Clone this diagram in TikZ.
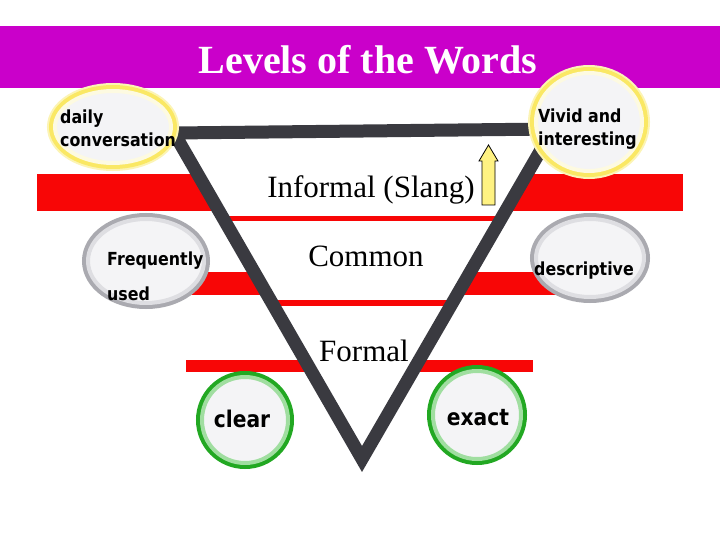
\documentclass[tikz,border=0pt]{standalone}
\usepackage{fontspec}
\setmainfont{Liberation Serif}
\newfontfamily\comicfont[FakeStretch=0.88]{DejaVu Sans}
\usetikzlibrary{shapes.geometric}
\definecolor{TitlePurple}{RGB}{202,0,202}
\definecolor{LevelRed}{RGB}{248,6,6}
\definecolor{InkGray}{RGB}{58,58,64}
\definecolor{BubbleFill}{RGB}{244,244,246}
\definecolor{GlowYellow}{RGB}{250,232,100}
\definecolor{GlowPale}{RGB}{252,244,180}
\definecolor{GlowLight}{RGB}{253,250,225}
\definecolor{RingGray}{RGB}{170,170,176}
\definecolor{RingPale}{RGB}{222,222,226}
\definecolor{RingGreen}{RGB}{34,168,34}
\definecolor{RingMint}{RGB}{160,222,160}
\definecolor{ArrowYellow}{RGB}{255,242,130}
\tikzset{
  band/.style={fill=LevelRed},
  rung/.style={draw=LevelRed,line width=5pt},
  edge/.style={draw=InkGray,line width=13pt,line join=miter},
  level/.style={font=\fontsize{31}{31}\selectfont,inner sep=0pt,anchor=base},
  bubble/.style={ellipse,fill=BubbleFill,inner sep=0pt},
  sunny/.style={bubble,draw=GlowLight,line width=4pt,
    preaction={draw=GlowPale,line width=16pt},preaction={draw=GlowYellow,line width=12pt}},
  silver/.style={bubble,draw=RingPale,line width=4pt,preaction={draw=RingGray,line width=12pt}},
  leafy/.style={bubble,draw=RingMint,line width=4pt,preaction={draw=RingGreen,line width=12pt}},
  note/.style={font=\comicfont\bfseries\fontsize{18}{23}\selectfont,align=left,inner sep=0pt},
  bignote/.style={font=\comicfont\bfseries\fontsize{23}{23}\selectfont,inner sep=0pt},
  arrowbox/.style={draw=black,fill=ArrowYellow,line width=0.8pt},
}
\begin{document}
\begin{tikzpicture}[x=1pt,y=-1pt]
\useasboundingbox (0,0) rectangle (720,540);
\fill[white] (0,0) rectangle (720,540);
\fill[TitlePurple] (0,26) rectangle (720,88);
\node[font=\bfseries\fontsize{40}{40}\selectfont,text=white,anchor=base,inner sep=0pt] (title) at (368,74) {Levels of the Words};
\fill[band] (37,174) rectangle (683,211);
\fill[band] (110,272) rectangle (560,295);
\fill[band] (186,360) rectangle (533,372);
\coordinate (apexL) at (174,133);
\coordinate (apexR) at (553,129);
\coordinate (apexB) at (362,459);
\fill[white] (apexL) -- (apexR) -- (apexB) -- cycle;
\draw[rung] (224,219) -- (501,219);
\draw[rung,line width=6pt] (272,303) -- (452,303);
\draw[edge] (apexL) -- (apexR) -- (apexB) -- cycle;
\node[level] (informal) at (371,198) {Informal (Slang)};
\node[level] (common) at (366,266) {Common};
\node[level] (formal) at (364,361) {Formal};
\draw[arrowbox] (488.5,145) -- (498,161) -- (495,161) -- (495,205) -- (482,205) -- (482,161) -- (479,161) -- cycle;
\node[sunny,minimum width=116pt,minimum height=72pt] (dailyring) at (113,127) {};
\node[note,anchor=west] (daily) at (60,128) {daily\\conversation};
\node[sunny,minimum width=106pt,minimum height=98pt] (vividring) at (589,122) {};
\node[note,anchor=west] (vivid) at (538,129) {Vivid and\\interesting};
\node[silver,minimum width=116pt,minimum height=84pt] (freqring) at (146,261) {};
\node[note,anchor=west,font=\comicfont\bfseries\fontsize{18}{35}\selectfont] (freq) at (107,276) {Frequently\\used};
\node[silver,minimum width=108pt,minimum height=78pt] (descring) at (590,258) {};
\node[note,anchor=base] (desc) at (584,275) {descriptive};
\node[leafy,minimum size=86pt] (clearring) at (245,420) {};
\node[bignote] (clear) at (242,419) {clear};
\node[leafy,minimum size=88pt] (exactring) at (477,415) {};
\node[bignote] (exact) at (478,418) {exact};
\end{tikzpicture}
\end{document}
